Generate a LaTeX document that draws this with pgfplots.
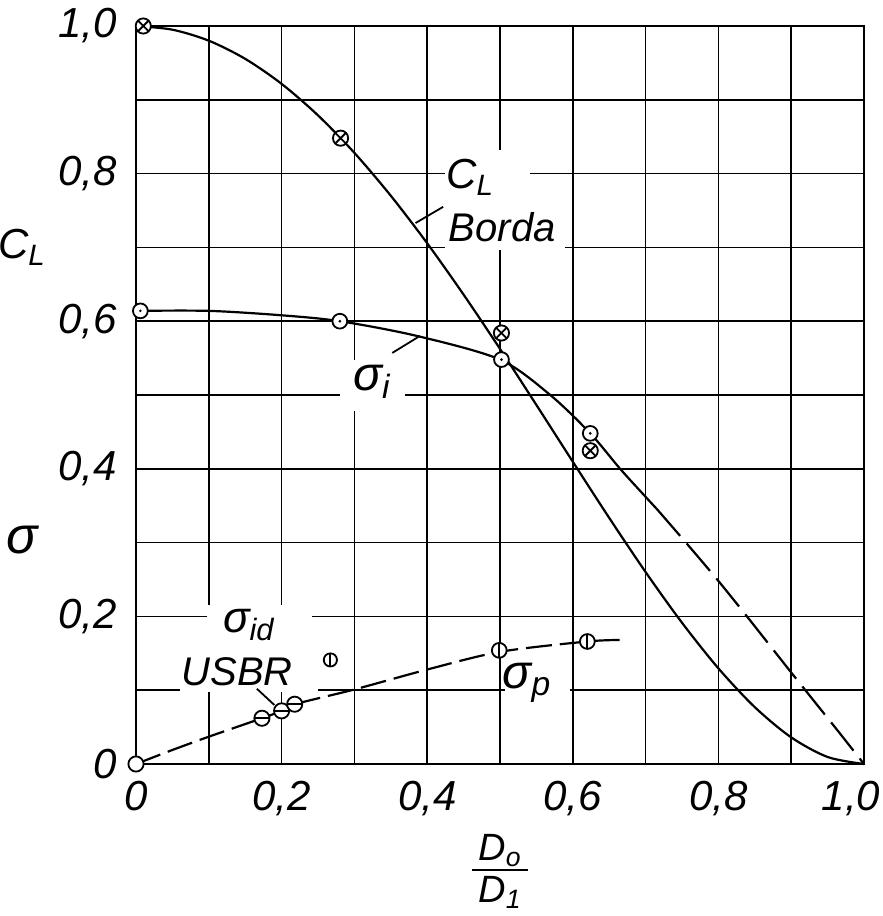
\documentclass[border=0pt]{standalone}
\usepackage{fontspec}
\setmainfont{Liberation Sans}
\usepackage{pgfplots}
\pgfplotsset{compat=1.18}

\pgfdeclareplotmark{myotimes}{%
  \pgfpathcircle{\pgfpointorigin}{\pgfplotmarksize}\pgfusepathqfillstroke
  \pgfpathmoveto{\pgfqpoint{-0.707\pgfplotmarksize}{-0.707\pgfplotmarksize}}%
  \pgfpathlineto{\pgfqpoint{0.707\pgfplotmarksize}{0.707\pgfplotmarksize}}%
  \pgfpathmoveto{\pgfqpoint{-0.707\pgfplotmarksize}{0.707\pgfplotmarksize}}%
  \pgfpathlineto{\pgfqpoint{0.707\pgfplotmarksize}{-0.707\pgfplotmarksize}}%
  \pgfusepathqstroke}
\pgfdeclareplotmark{myodot}{%
  \pgfpathcircle{\pgfpointorigin}{\pgfplotmarksize}\pgfusepathqfillstroke
  \pgfscope\pgfsetfillcolor{black}%
  \pgfpathcircle{\pgfpointorigin}{0.2\pgfplotmarksize}\pgfusepathqfill
  \endpgfscope}
\pgfdeclareplotmark{myominus}{%
  \pgfpathcircle{\pgfpointorigin}{\pgfplotmarksize}\pgfusepathqfillstroke
  \pgfpathmoveto{\pgfqpoint{-\pgfplotmarksize}{0pt}}%
  \pgfpathlineto{\pgfqpoint{\pgfplotmarksize}{0pt}}\pgfusepathqstroke}
\pgfdeclareplotmark{myovbar}{%
  \pgfpathcircle{\pgfpointorigin}{\pgfplotmarksize}\pgfusepathqfillstroke
  \pgfpathmoveto{\pgfqpoint{0pt}{-\pgfplotmarksize}}%
  \pgfpathlineto{\pgfqpoint{0pt}{\pgfplotmarksize}}\pgfusepathqstroke}
\pgfdeclareplotmark{myo}{%
  \pgfpathcircle{\pgfpointorigin}{\pgfplotmarksize}\pgfusepathqfillstroke}

\begin{document}
\begin{tikzpicture}
\useasboundingbox (-68bp,-76bp) rectangle (373.5bp,382bp);
\begin{axis}[
  at={(0,0)}, anchor=south west,
  scale only axis, width=364bp, height=369bp,
  xmin=0, xmax=1, ymin=0, ymax=1,
  clip=false,
  xtick={0,0.2,0.4,0.6,0.8,1},
  xticklabels={\textit{0},\textit{0,2},\textit{0,4},\textit{0,6},\textit{0,8},\textit{1,0}\hspace*{13bp}},
  ytick={0,0.2,0.4,0.6,0.8,1},
  yticklabels={\textit{0},\textit{0,2},\textit{0,4},\textit{0,6},\textit{0,8},\textit{1,0}},
  minor xtick={0.1,0.3,0.5,0.7,0.9},
  minor ytick={0.1,0.3,0.5,0.7,0.9},
  grid=both,
  major grid style={black, line width=0.8bp},
  minor grid style={black, line width=0.8bp},
  major tick length=0pt, minor tick length=0pt,
  axis line style={black, line width=0.9bp},
  tick label style={font=\fontsize{21bp}{25bp}\selectfont\itshape},
  xticklabel style={yshift=-5bp},
  yticklabel style={xshift=-6bp},
]
% white patches hiding grid behind labels
\fill[white] (axis cs:0.425,0.764) rectangle (axis cs:0.541,0.832);
\fill[white] (axis cs:0.425,0.697) rectangle (axis cs:0.589,0.764);
\fill[white] (axis cs:0.28,0.478) rectangle (axis cs:0.369,0.547);
\fill[white] (axis cs:0.098,0.154) rectangle (axis cs:0.242,0.215);
\fill[white] (axis cs:0.060,0.098) rectangle (axis cs:0.25,0.154);
\fill[white] (axis cs:0.507,0.073) rectangle (axis cs:0.596,0.141);

% C_L Borda
\addplot[black, line width=1.1bp, smooth] coordinates {
(0,1.0) (0.05,0.9950) (0.1,0.9801) (0.15,0.9555) (0.2,0.9216) (0.25,0.8789)
(0.3,0.8281) (0.35,0.7700) (0.4,0.7056) (0.45,0.6360) (0.5,0.5625) (0.55,0.4865)
(0.6,0.4096) (0.65,0.3335) (0.7,0.2601) (0.75,0.1914) (0.8,0.1296) (0.85,0.0770)
(0.9,0.0361) (0.95,0.0095) (1.0,0.0)};
% sigma_i solid
\addplot[black, line width=1.1bp, smooth] coordinates {
(0,0.614) (0.1,0.614) (0.2,0.608) (0.28,0.600) (0.386,0.58) (0.5,0.548)
(0.569,0.5) (0.624,0.448) (0.665,0.4) (0.7,0.362) (0.715,0.346)};
% sigma_i dashed
\addplot[black, line width=1.1bp, smooth, dash pattern=on 18bp off 5bp] coordinates {
(0.715,0.346) (0.758,0.297) (0.8,0.248) (0.84,0.199) (0.9,0.124) (0.96,0.05) (1,0)};
% sigma_p dashed
\addplot[black, line width=1.1bp, smooth, dash pattern=on 13bp off 4bp] coordinates {
(0,0) (0.05,0.019) (0.1,0.037) (0.173,0.062) (0.2,0.072) (0.218,0.081)
(0.3,0.101) (0.4,0.128) (0.5,0.152) (0.62,0.166) (0.665,0.168)};

% markers
\addplot[only marks, mark=myotimes, mark size=3.8bp, mark options={fill=white, draw=black, line width=0.9bp}] coordinates {
(0.01,1.0) (0.281,0.848) (0.502,0.584) (0.624,0.4245)};
\addplot[only marks, mark=myodot, mark size=3.7bp, mark options={fill=white, draw=black, line width=0.9bp}] coordinates {
(0.006,0.614) (0.28,0.600) (0.502,0.548) (0.624,0.448)};
\addplot[only marks, mark=myominus, mark size=3.8bp, mark options={fill=white, draw=black, line width=0.9bp}] coordinates {
(0.173,0.062) (0.2,0.072) (0.218,0.081)};
\addplot[only marks, mark=myovbar, mark size=3.3bp, mark options={fill=white, draw=black, line width=0.9bp}] coordinates {
(0.267,0.141)};
\addplot[only marks, mark=myovbar, mark size=3.7bp, mark options={fill=white, draw=black, line width=0.9bp}] coordinates {
(0.499,0.154) (0.62,0.166)};
\addplot[only marks, mark=myo, mark size=3.8bp, mark options={fill=white, draw=black, line width=0.9bp}] coordinates {
(0,0)};

% leaders
\draw[line width=0.9bp] (axis cs:0.384,0.733) -- (axis cs:0.422,0.755);
\draw[line width=0.9bp] (axis cs:0.352,0.557) -- (axis cs:0.390,0.580);
\draw[line width=0.9bp] (axis cs:0.166,0.102) -- (axis cs:0.190,0.080);

% labels
\node[font=\fontsize{21bp}{25bp}\selectfont\itshape] at (axis cs:0.459,0.795) {C\textsubscript{L}};
\node[font=\fontsize{20bp}{24bp}\selectfont\itshape] at (axis cs:0.503,0.728) {Borda};
\node[font=\fontsize{24bp}{28bp}\selectfont\itshape] at (axis cs:0.324,0.518) {σ\textsubscript{i}};
\node[font=\fontsize{22bp}{26bp}\selectfont\itshape] at (axis cs:0.155,0.188) {σ\textsubscript{id}};
\node[font=\fontsize{20bp}{24bp}\selectfont\itshape] at (axis cs:0.139,0.125) {USBR};
\node[font=\fontsize{24bp}{28bp}\selectfont\itshape] at (axis cs:0.537,0.110) {σ\textsubscript{p}};

% y-axis labels
\node[font=\fontsize{21bp}{25bp}\selectfont\itshape] at (axis cs:0,0.70) [xshift=-57bp] {C\textsubscript{L}};
\node[font=\fontsize{26bp}{30bp}\selectfont\itshape] at (axis cs:0,0.304) [xshift=-57bp] {σ};

% x-axis label D_o / D_1
\node[anchor=base, inner sep=0pt, font=\fontsize{19bp}{23bp}\selectfont\itshape] at (axis cs:0.5,0) [yshift=-48bp] {D\textsubscript{o}};
\draw[line width=0.9bp] (axis cs:0.5,0) ++(-14bp,-53bp) -- ++(28bp,0);
\node[anchor=base, inner sep=0pt, font=\fontsize{19bp}{23bp}\selectfont\itshape] at (axis cs:0.5,0) [yshift=-69bp] {D\textsubscript{1}};
\end{axis}
\end{tikzpicture}
\end{document}
